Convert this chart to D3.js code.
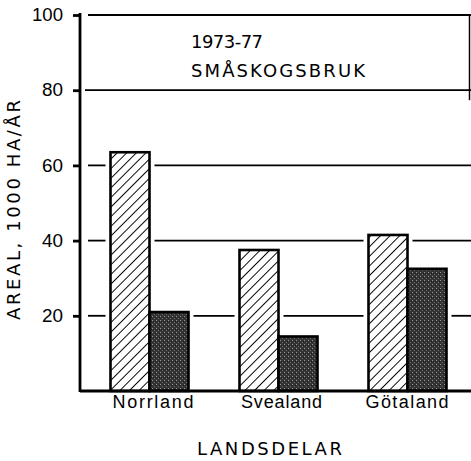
<!DOCTYPE html>
<html>
<head>
<meta charset="utf-8">
<script src="https://cdn.jsdelivr.net/npm/d3@7"></script>
<style>
  html, body { margin: 0; padding: 0; background: #fff; }
  svg { display: block; font-family: "DejaVu Sans", Verdana, sans-serif; }
</style>
</head>
<body>
<div id="chart"></div>
<script>
// ---------- data ----------
const categories = ["Norrland", "Svealand", "Götaland"];
const seriesNames = ["hatched", "dark"];
const hatchedValues = [63.5, 37.5, 41.5];
const darkValues = [21, 14.5, 32.5];
const yTicks = [20, 40, 60, 80, 100];
const titleLines = ["1973-77", "SMÅSKOGSBRUK"];
const yLabel = "AREAL, 1000 HA/ÅR";
const xLabel = "LANDSDELAR";

// ---------- layout ----------
const W = 471, H = 461;
const axisX = 80, gridStart = 88, gridEnd = 471, gap = 5;

const svg = d3.select("#chart").append("svg").attr("width", W).attr("height", H);
const defs = svg.append("defs");

// diagonal hatch
const hatch = defs.append("pattern")
  .attr("id", "hatch").attr("patternUnits", "userSpaceOnUse")
  .attr("width", 6.8).attr("height", 6.8)
  .attr("patternTransform", "rotate(45)");
hatch.append("rect").attr("width", 6.8).attr("height", 6.8).attr("fill", "#fff");
hatch.append("line").attr("x1", 0).attr("y1", 0).attr("x2", 0).attr("y2", 6.8)
  .attr("stroke", "#000").attr("stroke-width", 1.9);

// dark stipple
const stip = defs.append("pattern")
  .attr("id", "stipple").attr("patternUnits", "userSpaceOnUse")
  .attr("width", 4).attr("height", 4);
stip.append("rect").attr("width", 4).attr("height", 4).attr("fill", "#333");
stip.append("rect").attr("x", 0).attr("y", 0).attr("width", 1).attr("height", 1).attr("fill", "#999");
stip.append("rect").attr("x", 2).attr("y", 2).attr("width", 1).attr("height", 1).attr("fill", "#6e6e6e");
stip.append("rect").attr("x", 3).attr("y", 1).attr("width", 1).attr("height", 1).attr("fill", "#1c1c1c");

const y = d3.scaleLinear().domain([0, 100]).range([391, 15]);
const x0 = d3.scalePoint().domain(categories).range([85, 472]).padding(0.5);
const x1 = d3.scaleBand().domain(seriesNames).range([-39, 39]);

const rows = categories.map((c, i) => ({ cat: c, hatched: hatchedValues[i], dark: darkValues[i] }));
const bars = [];
rows.forEach(r => seriesNames.forEach(s => bars.push({
  cat: r.cat, s, v: r[s],
  x: x0(r.cat) + x1(s), w: x1.bandwidth()
})));

// ---------- gridlines, broken around bars ----------
yTicks.forEach(t => {
  const cuts = bars.filter(b => b.v > t).map(b => [b.x - gap, b.x + b.w + gap]);
  let segs = [[t === 80 ? 85 : gridStart, gridEnd]];
  cuts.forEach(([a, b]) => {
    const out = [];
    segs.forEach(([s, e]) => {
      if (b <= s || a >= e) { out.push([s, e]); return; }
      if (a > s) out.push([s, a]);
      if (b < e) out.push([b, e]);
    });
    segs = out;
  });
  segs.forEach(([s, e]) => svg.append("line")
    .attr("x1", s).attr("x2", e).attr("y1", y(t)).attr("y2", y(t))
    .attr("stroke", "#000").attr("stroke-width", 1.8));
});

// title box right edge
svg.append("line").attr("x1", 469.5).attr("x2", 469.5).attr("y1", y(100)).attr("y2", y(80) + 10)
  .attr("stroke", "#000").attr("stroke-width", 1.5);

// ---------- bars ----------
svg.append("g").selectAll("rect").data(bars).enter().append("rect")
  .attr("x", d => d.x).attr("width", d => d.w)
  .attr("y", d => y(d.v)).attr("height", d => y(0) - y(d.v))
  .attr("fill", d => d.s === "hatched" ? "url(#hatch)" : "url(#stipple)")
  .attr("stroke", "#000").attr("stroke-width", 2.6);

// ---------- axes ----------
const yAxis = svg.append("g").attr("transform", `translate(${axisX},0)`)
  .call(d3.axisLeft(y).tickValues(yTicks).tickSize(7).tickPadding(10).tickFormat(d3.format("d")));
yAxis.select(".domain").remove();
yAxis.selectAll(".tick line").attr("stroke", "#000").attr("stroke-width", 2.8);
yAxis.selectAll(".tick text").attr("fill", "#000").style("font-size", "17.5px")
  .attr("textLength", d => d === 100 ? 31 : 21).attr("lengthAdjust", "spacingAndGlyphs");
svg.append("line").attr("x1", axisX).attr("x2", axisX).attr("y1", y(100) - 2).attr("y2", y(0) + 1)
  .attr("stroke", "#000").attr("stroke-width", 2.8);
svg.append("line").attr("x1", axisX).attr("x2", W).attr("y1", y(0)).attr("y2", y(0))
  .attr("stroke", "#000").attr("stroke-width", 2.8);

const labelW = { "Norrland": 81, "Svealand": 81, "Götaland": 83 };
const labelDx = { "Norrland": 3, "Svealand": 2.5, "Götaland": -1 };
const xAxis = svg.append("g").attr("transform", `translate(0,${y(0)})`)
  .call(d3.axisBottom(x0).tickSize(0).tickPadding(0));
xAxis.select(".domain").remove();
xAxis.selectAll(".tick text")
  .attr("fill", "#000").attr("dy", null).attr("y", 17)
  .attr("dx", d => labelDx[d])
  .attr("textLength", d => labelW[d]).attr("lengthAdjust", "spacing")
  .style("font-size", "18px");

// ---------- texts ----------
svg.append("g").selectAll("text").data(titleLines).enter().append("text")
  .attr("x", 191).attr("y", (d, i) => 48 + i * 29)
  .attr("textLength", (d, i) => i ? 174 : 72).attr("lengthAdjust", "spacing")
  .style("font-size", "18px")
  .text(d => d);

svg.append("text")
  .attr("transform", `translate(20,210) rotate(-90)`)
  .attr("text-anchor", "middle")
  .attr("textLength", 220).attr("lengthAdjust", "spacing")
  .style("font-size", "18px")
  .text(yLabel);

svg.append("text")
  .attr("x", 269.5).attr("y", 455).attr("text-anchor", "middle")
  .attr("textLength", 145).attr("lengthAdjust", "spacing")
  .style("font-size", "18px")
  .text(xLabel);
</script>
</body>
</html>
